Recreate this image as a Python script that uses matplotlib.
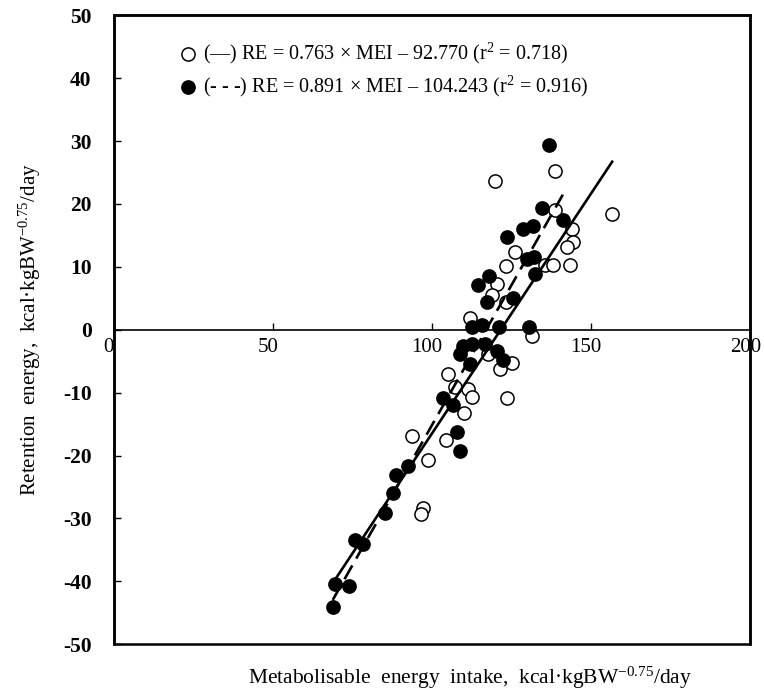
import matplotlib
matplotlib.use('Agg')
import numpy as np
import matplotlib.pyplot as plt
import matplotlib.transforms as mtransforms
from matplotlib.patches import Rectangle

plt.rcParams['font.family'] = 'Liberation Serif'
plt.rcParams['mathtext.fontset'] = 'custom'
plt.rcParams['mathtext.rm'] = 'Liberation Serif'
plt.rcParams['mathtext.it'] = 'Liberation Serif:italic'
plt.rcParams['axes.unicode_minus'] = False

# open circles (solid regression line)
open_mei = [119.8, 138.7, 138.7, 143.9, 144.2, 142.3, 143.2, 126.1, 123.3, 135.5,
            138.1, 120.5, 118.8, 123.3, 112.0, 131.3, 117.7, 125.0, 121.2, 105.1,
            107.2, 111.4, 112.5, 110.0, 123.5, 93.6, 104.4, 98.8, 97.3, 96.5, 156.6]
open_re = [23.7, 25.2, 19.0, 16.1, 14.0, 13.2, 10.3, 12.4, 10.1, 10.3,
           10.3, 7.3, 5.6, 4.4, 1.8, -1.0, -3.8, -5.3, -6.2, -7.0,
           -9.1, -9.4, -10.7, -13.3, -10.9, -16.9, -17.5, -20.7, -28.3, -29.3, 18.4]

# filled circles (dashed regression line)
filled_mei = [136.9, 134.5, 141.1, 128.7, 131.6, 123.5, 129.8, 131.9, 132.4, 118.0,
              114.3, 117.2, 125.4, 112.5, 115.6, 121.0, 130.5, 109.8, 112.5, 116.7,
              120.3, 108.8, 122.4, 112.0, 103.6, 106.7, 107.8, 108.8, 92.5, 88.7,
              87.8, 85.3, 75.8, 78.2, 69.5, 74.0, 68.8]
filled_re = [29.3, 19.3, 17.5, 16.1, 16.5, 14.7, 11.3, 11.5, 8.8, 8.5,
             7.1, 4.4, 5.0, 0.4, 0.8, 0.5, 0.4, -2.5, -2.2, -2.2,
             -3.3, -3.8, -4.8, -5.4, -10.9, -12.0, -16.2, -19.2, -21.7, -23.1,
             -25.9, -29.1, -33.5, -34.1, -40.4, -40.8, -44.0]

solid_fit = (0.763, -92.770)
dashed_fit = (0.891, -104.243)

label_open = '(\u2014) RE = 0.763 \u00d7 MEI \u2013 92.770 (r$^2$ = 0.718)'
label_filled = '(- - -) RE = 0.891 \u00d7 MEI \u2013 104.243 (r$^2$ = 0.916)'

fig = plt.figure(figsize=(7.64, 6.95), dpi=100)
ax = fig.add_axes([0.149, 0.073, 0.833, 0.905])

lo = min(min(open_mei), min(filled_mei))
xs = np.array([lo, max(open_mei)])
ax.plot(xs, solid_fit[0] * xs + solid_fit[1], color='black', lw=1.9, zorder=3)
xd = np.array([lo, max(filled_mei)])
ax.plot(xd, dashed_fit[0] * xd + dashed_fit[1], color='black', lw=1.9,
        dashes=(6, 3), zorder=3)

ax.scatter(open_mei, open_re, s=90, facecolors='white', edgecolors='black',
           linewidths=1.1, zorder=2, label=label_open)
ax.scatter(filled_mei, filled_re, s=90, facecolors='black', edgecolors='black',
           linewidths=1.1, zorder=2, label=label_filled)

ax.legend(loc='upper left', bbox_to_anchor=(0.085, 0.972), frameon=False,
          fontsize=14.5, handletextpad=0.15, handlelength=1.2, labelspacing=0.4,
          borderaxespad=0)

ax.set_xlim(0, 200)
ax.set_ylim(-50, 50)
ax.set_xticks([0, 50, 100, 150, 200])
ax.set_yticks(np.arange(-50, 51, 10))

ax.spines['bottom'].set_position(('data', 0))
ax.spines['bottom'].set_linewidth(1.2)
for s in ['top', 'left', 'right']:
    ax.spines[s].set_linewidth(1.8)
ax.add_patch(Rectangle((0, 0), 1, 1, transform=ax.transAxes, fill=False,
                       lw=1.8, ec='black', clip_on=False, zorder=5))

ax.tick_params(axis='x', direction='in', length=5, width=1, labelsize=15, pad=6)
ax.tick_params(axis='y', direction='in', length=5, width=1, labelsize=15.5, pad=16)
for t in ax.get_yticklabels():
    t.set_fontweight('bold')
shift = mtransforms.ScaledTranslation(-0.05, 0, fig.dpi_scale_trans)
for t in ax.get_xticklabels():
    t.set_transform(t.get_transform() + shift)

ax.set_ylabel('Retention  energy,  kcal\u00b7kgBW$^{-0.75}$/day', fontsize=15, labelpad=14)
fig.text(0.615, 0.024, 'Metabolisable  energy  intake,  kcal\u00b7kgBW$^{-0.75}$/day',
         fontsize=15.5, ha='center', va='center')

fig.savefig('out.png', dpi=100)
